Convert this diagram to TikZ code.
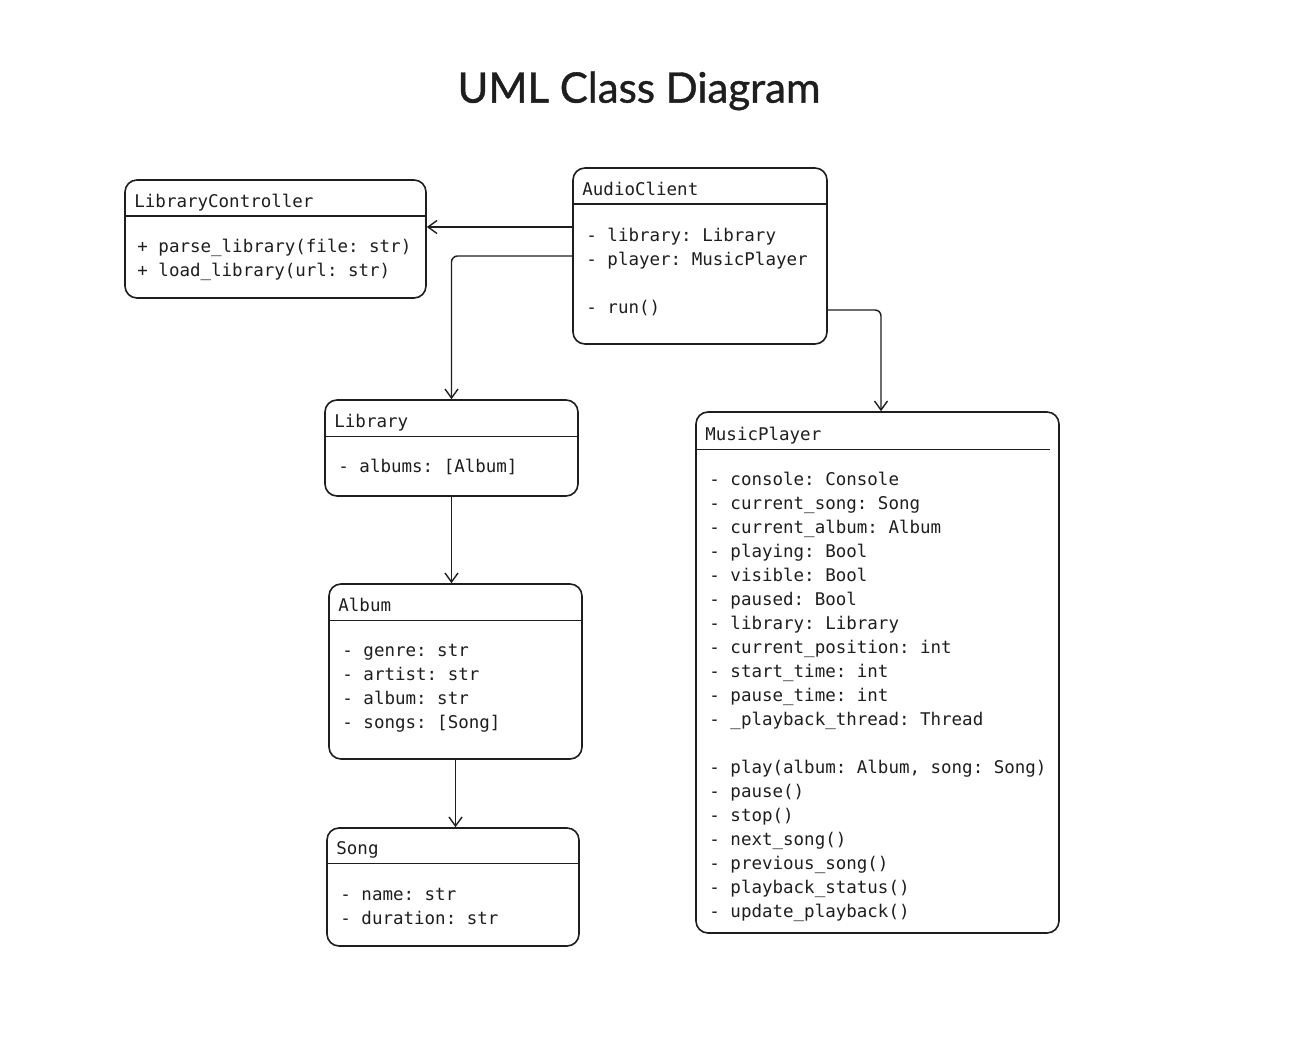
\documentclass[tikz,border=0pt]{standalone}
\usepackage{fontspec}
\setmonofont{DejaVu Sans Mono}
\newfontfamily\titlefont[FakeBold=1]{Lato}
\usetikzlibrary{arrows.meta}

\definecolor{ink}{HTML}{1E1E1E}

\tikzset{
  classbox/.style={draw=ink, line width=1.6pt, rounded corners=12pt, fill=white},
  classname/.style={anchor=base west, inner sep=0pt, text=ink, font=\ttfamily\fontsize{17.5}{24}\selectfont},
  members/.style={anchor=north west, inner sep=0pt, align=left, text=ink, font=\ttfamily\fontsize{17.5}{24}\selectfont},
  divider/.style={draw=ink, line width=1.4pt},
  assoc/.style={draw=ink, line width=1.4pt, rounded corners=6pt, -{Straight Barb[length=9pt,width=13pt]}},
}

\begin{document}
\begin{tikzpicture}[x=1pt, y=-1pt]
  \useasboundingbox (0, 0) rectangle (1306, 1064);

  \node[font=\titlefont\fontsize{42}{50}\selectfont, text=ink] (title) at (639, 91) {UML Class Diagram};

  % LibraryController
  \node[classbox, minimum width=301pt, minimum height=118pt] (ctrl) at (275.5, 239) {};
  \node[classname] (ctrlname) at ([xshift=10pt, yshift=-28pt]ctrl.north west) {LibraryController};
  \draw[divider] ([yshift=-37pt]ctrl.north west) -- ([yshift=-37pt]ctrl.north east);
  \node[members] (ctrlbody) at ([xshift=13pt, yshift=-60pt]ctrl.north west)
    {+ parse\_library(file: str)\\+ load\_library(url: str)};

  % AudioClient
  \node[classbox, minimum width=254pt, minimum height=176pt] (client) at (700, 256) {};
  \node[classname] (clientname) at ([xshift=10pt, yshift=-28pt]client.north west) {AudioClient};
  \draw[divider] ([yshift=-37pt]client.north west) -- ([yshift=-37pt]client.north east);
  \node[members] (clientbody) at ([xshift=14pt, yshift=-61pt]client.north west)
    {- library: Library\\- player: MusicPlayer\\[24pt]- run()};

  % Library
  \node[classbox, minimum width=253pt, minimum height=96pt] (lib) at (451.5, 448) {};
  \node[classname] (libname) at ([xshift=10pt, yshift=-28pt]lib.north west) {Library};
  \draw[divider] ([yshift=-37pt]lib.north west) -- ([yshift=-37pt]lib.north east);
  \node[members] (libbody) at ([xshift=14pt, yshift=-60pt]lib.north west)
    {- albums: [Album]};

  % Album
  \node[classbox, minimum width=253pt, minimum height=175pt] (album) at (455.5, 671.5) {};
  \node[classname] (albumname) at ([xshift=10pt, yshift=-28pt]album.north west) {Album};
  \draw[divider] ([yshift=-37pt]album.north west) -- ([yshift=-37pt]album.north east);
  \node[members] (albumbody) at ([xshift=14pt, yshift=-61pt]album.north west)
    {- genre: str\\- artist: str\\- album: str\\- songs: [Song]};

  % Song
  \node[classbox, minimum width=252pt, minimum height=118pt] (song) at (453, 887) {};
  \node[classname] (songname) at ([xshift=10pt, yshift=-27pt]song.north west) {Song};
  \draw[divider] ([yshift=-36pt]song.north west) -- ([yshift=-36pt]song.north east);
  \node[members] (songbody) at ([xshift=14pt, yshift=-61pt]song.north west)
    {- name: str\\- duration: str};

  % MusicPlayer
  \node[classbox, minimum width=363pt, minimum height=521pt] (player) at (877.5, 672.5) {};
  \node[classname] (playername) at ([xshift=10pt, yshift=-29pt]player.north west) {MusicPlayer};
  \draw[divider] ([yshift=-38pt]player.north west) -- ([xshift=-10pt, yshift=-38pt]player.north east);
  \node[members] (playerbody) at ([xshift=14pt, yshift=-61pt]player.north west)
    {- console: Console\\- current\_song: Song\\- current\_album: Album\\- playing: Bool\\
     - visible: Bool\\- paused: Bool\\- library: Library\\- current\_position: int\\
     - start\_time: int\\- pause\_time: int\\- \_playback\_thread: Thread\\[24pt]
     - play(album: Album, song: Song)\\- pause()\\- stop()\\- next\_song()\\
     - previous\_song()\\- playback\_status()\\- update\_playback()};

  % associations
  \coordinate (c1) at ([yshift=29pt]client.west);
  \coordinate (c2) at ([yshift=-54pt]client.east);
  \draw[assoc] (c1) -- (c1 -| ctrl.east);
  \draw[assoc] (client.west) -| (lib.north);
  \draw[assoc] (lib.south) -- (lib.south |- album.north);
  \draw[assoc] (album.south) -- (album.south |- song.north);
  \draw[assoc] (c2) -| ([xshift=3.5pt]player.north);
\end{tikzpicture}
\end{document}
